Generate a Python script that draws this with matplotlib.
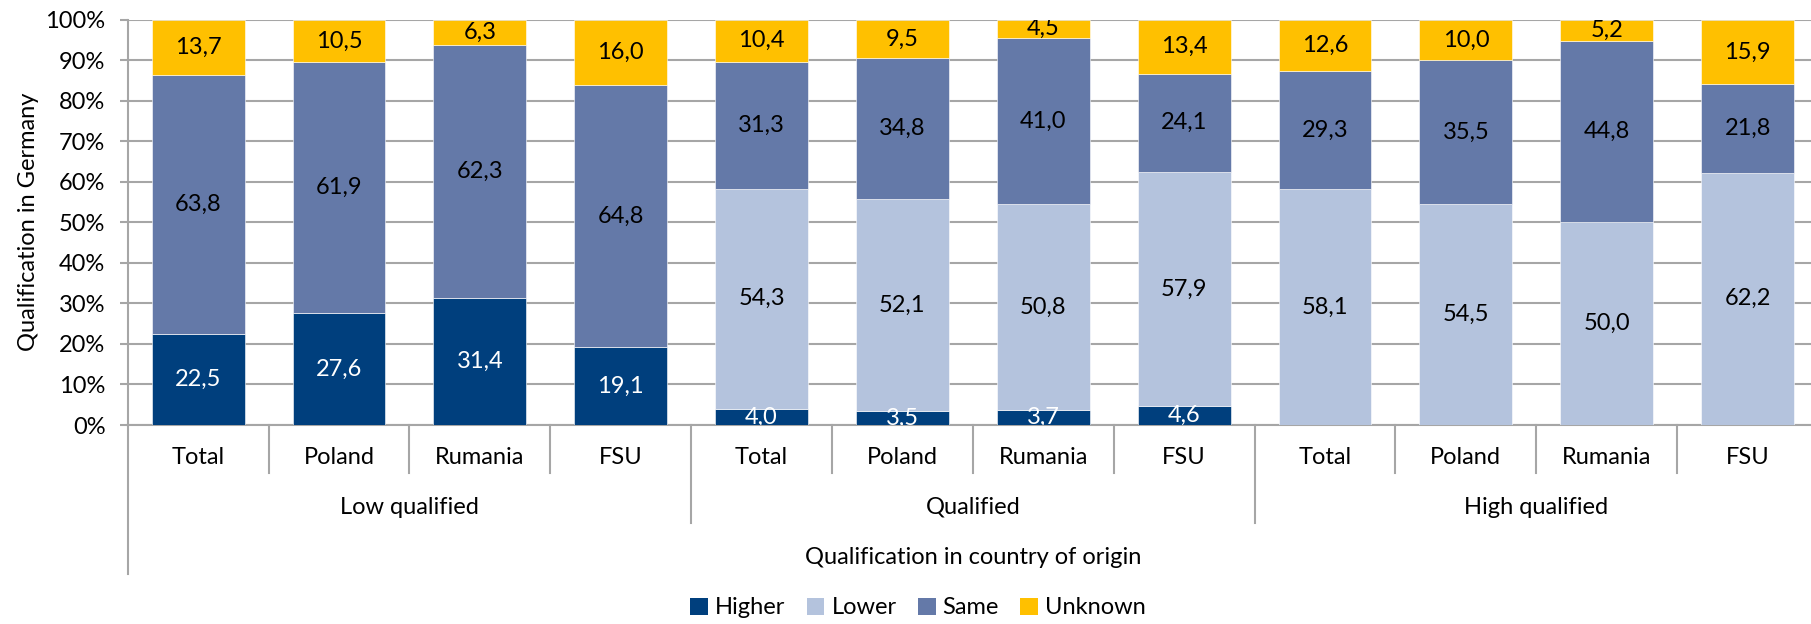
import matplotlib
matplotlib.use("Agg")
import matplotlib.pyplot as plt
import matplotlib.transforms as mtransforms
from matplotlib.patches import Patch
import numpy as np

plt.rcParams['font.family'] = ['Lato', 'DejaVu Sans']

# ---- data ----
countries = ["Total", "Poland", "Rumania", "FSU"] * 3
groups = ["Low qualified", "Qualified", "High qualified"]
series_names = ["Higher", "Lower", "Same", "Unknown"]
higher = [22.5, 27.6, 31.4, 19.1, 4.0, 3.5, 3.7, 4.6, 0, 0, 0, 0]
lower = [0, 0, 0, 0, 54.3, 52.1, 50.8, 57.9, 58.1, 54.5, 50.0, 62.2]
same = [63.8, 61.9, 62.3, 64.8, 31.3, 34.8, 41.0, 24.1, 29.3, 35.5, 44.8, 21.8]
unknown = [13.7, 10.5, 6.3, 16.0, 10.4, 9.5, 4.5, 13.4, 12.6, 10.0, 5.2, 15.9]
yticks = [0, 10, 20, 30, 40, 50, 60, 70, 80, 90, 100]

colors = ["#003F7D", "#B4C3DD", "#6479A8", "#FFC000"]
text_colors = ["white", "black", "black", "black"]

W, H = 1811, 624
fig = plt.figure(figsize=(W / 100, H / 100), dpi=100)
left_px, right_px, top_px, bot_px = 127.7, 1818, 19.6, 425
ax = fig.add_axes([left_px / W, (H - bot_px) / H, (right_px - left_px) / W, (bot_px - top_px) / H])

data = np.array([higher, lower, same, unknown], dtype=float)
totals = data.sum(axis=0)
pct = data / totals * 100
x = np.arange(len(countries))
bottom = np.zeros(len(countries))
FS = 17
for k, name in enumerate(series_names):
    ax.bar(x, pct[k], 0.66, bottom=bottom, color=colors[k], edgecolor="white",
           linewidth=0.4, zorder=3, label=name)
    for i in range(len(x)):
        v = data[k, i]
        if v > 0:
            ax.text(x[i], bottom[i] + pct[k, i] / 2, f"{v:.1f}".replace(".", ","),
                    ha="center", va="center", fontsize=FS, color=text_colors[k],
                    zorder=4, clip_on=True)
    bottom += pct[k]

ax.set_xlim(-0.5, len(x) - 0.5)
ax.set_ylim(0, 100)
ax.set_yticks(yticks)
ax.set_yticklabels([f"{t}%" for t in yticks], fontsize=FS)
ax.yaxis.grid(True, color="#A6A6A6", linewidth=1.5, zorder=0)
ax.set_axisbelow(True)
ax.tick_params(axis="y", length=6, width=1.5, color="#A6A6A6", pad=10)
ax.set_xticks([])
for s in ["top", "right"]:
    ax.spines[s].set_visible(False)
for s in ["left", "bottom"]:
    ax.spines[s].set_color("#A6A6A6")
    ax.spines[s].set_linewidth(1.5)
fig.text(29 / W, (H - (top_px + bot_px) / 2) / H, "Qualification in Germany", rotation=90,
         ha="center", va="center", fontsize=FS)

# multi-level category axis
trans = mtransforms.blended_transform_factory(ax.transData, ax.transAxes)
ah = bot_px - top_px
def yax(px):
    return (bot_px - px) / ah

lc = "#A6A6A6"
for b in np.arange(-0.5, len(x), 1.0):
    if b == -0.5:
        y_end = yax(574)
    elif (b + 0.5) % 4 == 0:
        y_end = yax(523)
    else:
        y_end = yax(473)
    ax.plot([b, b], [0, y_end], color=lc, linewidth=1.5, transform=trans, clip_on=False)

for i, c in enumerate(countries):
    ax.text(x[i], yax(457), c, ha="center", va="center", fontsize=FS, transform=trans)
for g, name in enumerate(groups):
    ax.text(g * 4 + 1.5, yax(507), name, ha="center", va="center", fontsize=FS, transform=trans)
ax.text((-0.5 + 11.5) / 2, yax(557), "Qualification in country of origin", ha="center",
        va="center", fontsize=FS, transform=trans)

handles = [Patch(facecolor=colors[k], label=series_names[k]) for k in range(4)]
fig.legend(handles=handles, loc="center", bbox_to_anchor=(918 / W, (H - 608) / H), ncol=4,
           frameon=False, fontsize=FS, handlelength=0.75, handleheight=0.75,
           handletextpad=0.3, columnspacing=0.9)

fig.savefig("out.png", dpi=100)
